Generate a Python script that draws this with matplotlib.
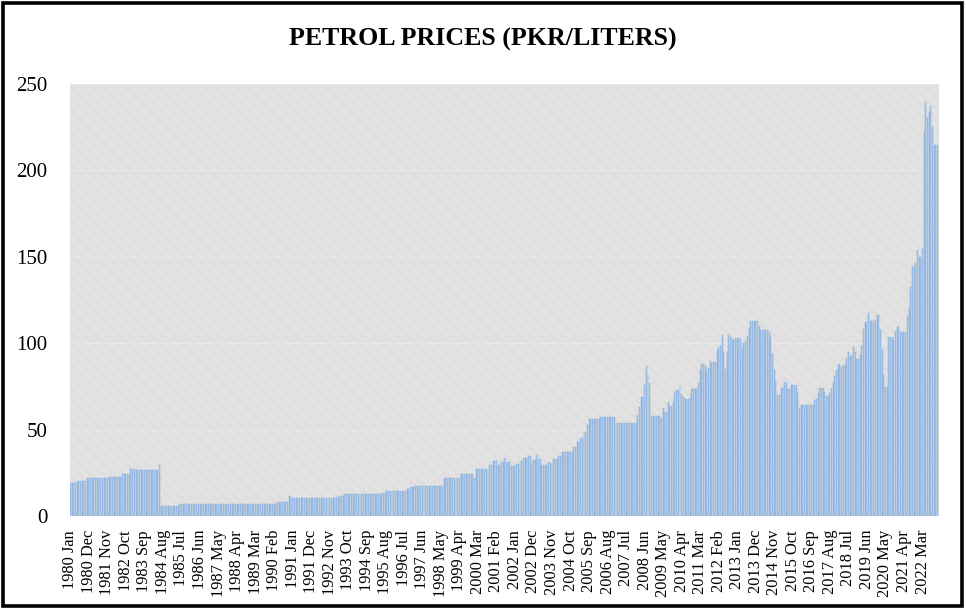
import matplotlib
matplotlib.use("Agg")
import matplotlib.pyplot as plt
from matplotlib.patches import Rectangle

START_YEAR = 1980
MONTHS = ["Jan", "Feb", "Mar", "Apr", "May", "Jun",
          "Jul", "Aug", "Sep", "Oct", "Nov", "Dec"]

# Monthly petrol prices (PKR / litre)
prices_1980s = (
    [18.9, 18.9, 18.9, 19.5, 19.5, 20.0, 20.0, 20.0, 20.0, 20.0, 22.2, 22.2]   # 1980
    + [22.2, 22.2, 22.2, 22.2, 22.2, 22.2, 22.2, 22.2, 22.2, 22.2, 22.2, 22.6]  # 1981
    + [22.6, 22.6, 22.6, 22.6, 22.6, 22.6, 22.6, 24.3, 24.3, 24.3, 24.3, 24.3]  # 1982
    + [27.0, 27.0, 27.0, 26.7, 26.7, 26.7, 26.7, 26.7, 26.7, 26.7, 26.7, 26.7]  # 1983
    + [26.7, 26.7, 26.7, 26.7, 26.7, 29.3, 6.0, 6.0, 6.0, 6.0, 6.0, 6.0]        # 1984
    + [6.0, 6.0, 6.0, 6.0, 6.0, 6.9, 6.9, 6.9, 6.9, 6.9, 6.9, 6.9]              # 1985
    + [6.9, 6.9, 6.9, 6.9, 6.9, 6.9, 6.9, 6.9, 6.9, 6.9, 6.9, 6.9]              # 1986
    + [6.9, 6.9, 6.7, 6.7, 6.7, 6.7, 6.7, 6.7, 6.7, 6.7, 6.7, 6.7]              # 1987
    + [6.7, 6.7, 6.7, 6.7, 6.7, 6.9, 6.9, 6.9, 6.9, 6.9, 6.9, 6.9]              # 1988
    + [6.9, 6.9, 6.9, 6.9, 6.9, 6.9, 6.9, 6.9, 6.9, 6.9, 6.9, 6.9]              # 1989
)
prices_1990s = (
    [6.9, 6.9, 6.9, 8.3, 8.3, 8.3, 8.3, 8.3, 8.3, 8.3, 11.6, 11.2]              # 1990
    + [10.6, 10.6, 10.6, 10.6, 10.6, 10.6, 10.6, 10.6, 10.6, 10.6, 10.6, 10.6]  # 1991
    + [10.6, 10.6, 10.6, 10.6, 10.6, 10.6, 10.6, 10.6, 10.6, 10.6, 10.6, 10.6]  # 1992
    + [10.6, 10.6, 11.2, 11.2, 11.6, 11.6, 11.6, 12.7, 12.7, 12.7, 12.7, 12.7]  # 1993
    + [12.7, 12.7, 12.7, 12.7, 12.7, 12.7, 12.7, 12.7, 12.7, 12.7, 12.7, 12.7]  # 1994
    + [12.7, 12.7, 12.7, 12.7, 12.7, 13.5, 13.5, 13.5, 14.4, 14.4, 14.4, 14.4]  # 1995
    + [14.4, 14.4, 14.4, 14.4, 14.4, 14.4, 14.4, 14.4, 15.5, 15.5, 16.8, 16.8]  # 1996
    + [16.8, 17.2, 17.2, 17.2, 17.2, 17.2, 17.2, 17.2, 17.2, 17.6, 17.6, 17.6]  # 1997
    + [17.6, 17.6, 17.6, 17.6, 17.6, 17.6, 22.2, 22.2, 22.2, 22.2, 22.2, 22.2]  # 1998
    + [22.2, 22.2, 22.2, 22.2, 24.3, 24.3, 24.3, 24.3, 24.3, 24.3, 24.3, 24.3]  # 1999
)
prices_2000s = (
    [22.2, 27.0, 27.0, 27.0, 27.0, 27.0, 27.0, 27.0, 27.0, 29.5, 29.5, 32.0]   # 2000
    + [32.0, 32.0, 29.5, 29.5, 31.4, 31.4, 33.4, 31.4, 31.4, 31.4, 29.0, 29.0]  # 2001
    + [29.0, 30.0, 30.0, 32.0, 32.0, 33.7, 33.7, 33.7, 34.7, 34.7, 30.0, 32.4]  # 2002
    + [32.4, 35.5, 32.8, 32.8, 29.7, 29.7, 29.7, 29.7, 31.2, 30.5, 30.5, 33.2]  # 2003
    + [33.2, 33.2, 34.7, 34.7, 36.8, 36.8, 36.8, 36.8, 36.8, 36.8, 36.8, 40.1]  # 2004
    + [40.1, 43.0, 43.0, 45.3, 45.3, 48.8, 48.8, 52.7, 56.1, 56.1, 56.1, 56.1]  # 2005
    + [56.1, 56.1, 56.1, 57.5, 57.5, 57.5, 57.5, 57.5, 57.5, 57.5, 57.5, 57.5]  # 2006
    + [53.6, 53.6, 53.6, 53.6, 53.6, 53.6, 53.6, 53.6, 53.6, 53.6, 53.6, 53.6]  # 2007
    + [53.6, 58.4, 62.9, 68.7, 68.7, 75.8, 87.0, 81.6, 76.8, 58.0, 58.0, 58.0]  # 2008
    + [58.0, 58.0, 58.0, 57.0, 62.3, 60.0, 60.0, 66.2, 63.7, 63.7, 66.0, 71.4]  # 2009
)
prices_2010s = (
    [72.9, 72.9, 75.8, 70.6, 68.7, 67.7, 67.7, 67.7, 68.0, 73.5, 73.5, 73.5]   # 2010
    + [73.5, 77.2, 84.5, 87.8, 87.8, 87.0, 84.5, 85.8, 89.7, 88.0, 89.0, 89.0]  # 2011
    + [96.0, 97.5, 98.4, 104.7, 94.5, 85.0, 94.7, 104.7, 103.4, 102.5, 102.0, 103.0]  # 2012
    + [103.0, 103.0, 102.5, 97.4, 100.0, 101.5, 104.2, 108.6, 112.8, 112.8, 112.8, 112.8]  # 2013
    + [112.8, 110.0, 107.6, 107.6, 107.6, 107.6, 107.6, 106.5, 103.4, 93.8, 84.5, 78.1]  # 2014
    + [70.0, 70.0, 74.1, 74.1, 77.4, 77.0, 73.5, 73.5, 76.0, 75.8, 75.8, 75.8]  # 2015
    + [71.0, 62.3, 64.0, 64.0, 64.0, 64.0, 64.0, 64.0, 64.0, 64.0, 67.1, 67.5]  # 2016
    + [71.4, 73.9, 73.9, 73.9, 72.0, 69.4, 69.4, 71.4, 74.0, 76.8, 81.0, 84.5]  # 2017
    + [87.4, 88.0, 86.0, 87.4, 87.4, 91.6, 95.0, 92.8, 92.8, 97.8, 95.0, 90.7]  # 2018
    + [90.7, 93.0, 98.4, 108.2, 112.4, 112.4, 117.7, 112.8, 112.8, 113.0, 113.5, 116.3]  # 2019
)
prices_2020s = (
    [116.3, 107.6, 96.4, 81.6, 74.5, 74.5, 103.8, 103.8, 103.8, 101.9, 107.3, 109.2]  # 2020
    + [109.2, 106.7, 106.7, 106.7, 106.7, 115.7, 120.2, 132.7, 144.7, 143.3, 146.6, 154.0]  # 2021
    + [150.0, 150.0, 154.5, 222.4, 239.8, 231.0, 234.0, 237.4, 225.3, 214.7, 214.7, 214.7]  # 2022
)

prices = prices_1980s + prices_1990s + prices_2000s + prices_2010s + prices_2020s
categories = [f"{START_YEAR + i // 12} {MONTHS[i % 12]}" for i in range(len(prices))]
LABEL_STEP = 11
y_ticks = [0, 50, 100, 150, 200, 250]
TITLE = "PETROL PRICES (PKR/LITERS)"

SERIF = ["Liberation Serif", "DejaVu Serif"]
plt.rcParams["hatch.linewidth"] = 1.8

W, H = 966, 609
fig = plt.figure(figsize=(W / 100, H / 100), dpi=100)
fig.patch.set_facecolor("white")

L, R, T, B = 69.5, 938.5, 84, 516
ax = fig.add_axes([L / W, 1 - B / H, (R - L) / W, (B - T) / H])

# plot-area background with subtle diagonal pattern
ax.set_facecolor("#dfdfdf")
ax.add_patch(Rectangle((0, 0), 1, 1, transform=ax.transAxes, facecolor="none",
                       edgecolor="#e4e4e4", hatch="\\\\\\", linewidth=0, zorder=0))

x = list(range(len(prices)))
ax.bar(x, prices, width=0.58, color="#b3cbe8", edgecolor="#77a6dc",
       linewidth=0.3, zorder=2)

ax.set_xlim(-0.5, len(prices) - 0.5)
ax.set_ylim(0, 250)
ax.set_yticks(y_ticks)
ax.yaxis.grid(True, color="#e8e8e8", linewidth=1.0, zorder=1)
ax.set_axisbelow(True)

tick_pos = list(range(0, len(prices), LABEL_STEP))
ax.set_xticks(tick_pos)
ax.set_xticklabels([categories[i] for i in tick_pos], rotation=90,
                   fontsize=11.8, family=SERIF, va="top", ha="center")
for lab in ax.get_yticklabels():
    lab.set_family(SERIF)
    lab.set_fontsize(15)
ax.tick_params(axis="x", length=0, pad=10)
ax.tick_params(axis="y", length=0, pad=16)
for s in ax.spines.values():
    s.set_visible(False)

fig.text(0.5, 1 - 39 / H, TITLE, ha="center", va="center",
         fontsize=18.6, fontweight="bold", family=SERIF)

# outer chart border
fig.add_artist(Rectangle((2.5 / W, 3 / H), 959.5 / W, 603.5 / H,
                         transform=fig.transFigure, fill=False,
                         edgecolor="black", linewidth=2.6))

fig.savefig("out.png", dpi=100)
